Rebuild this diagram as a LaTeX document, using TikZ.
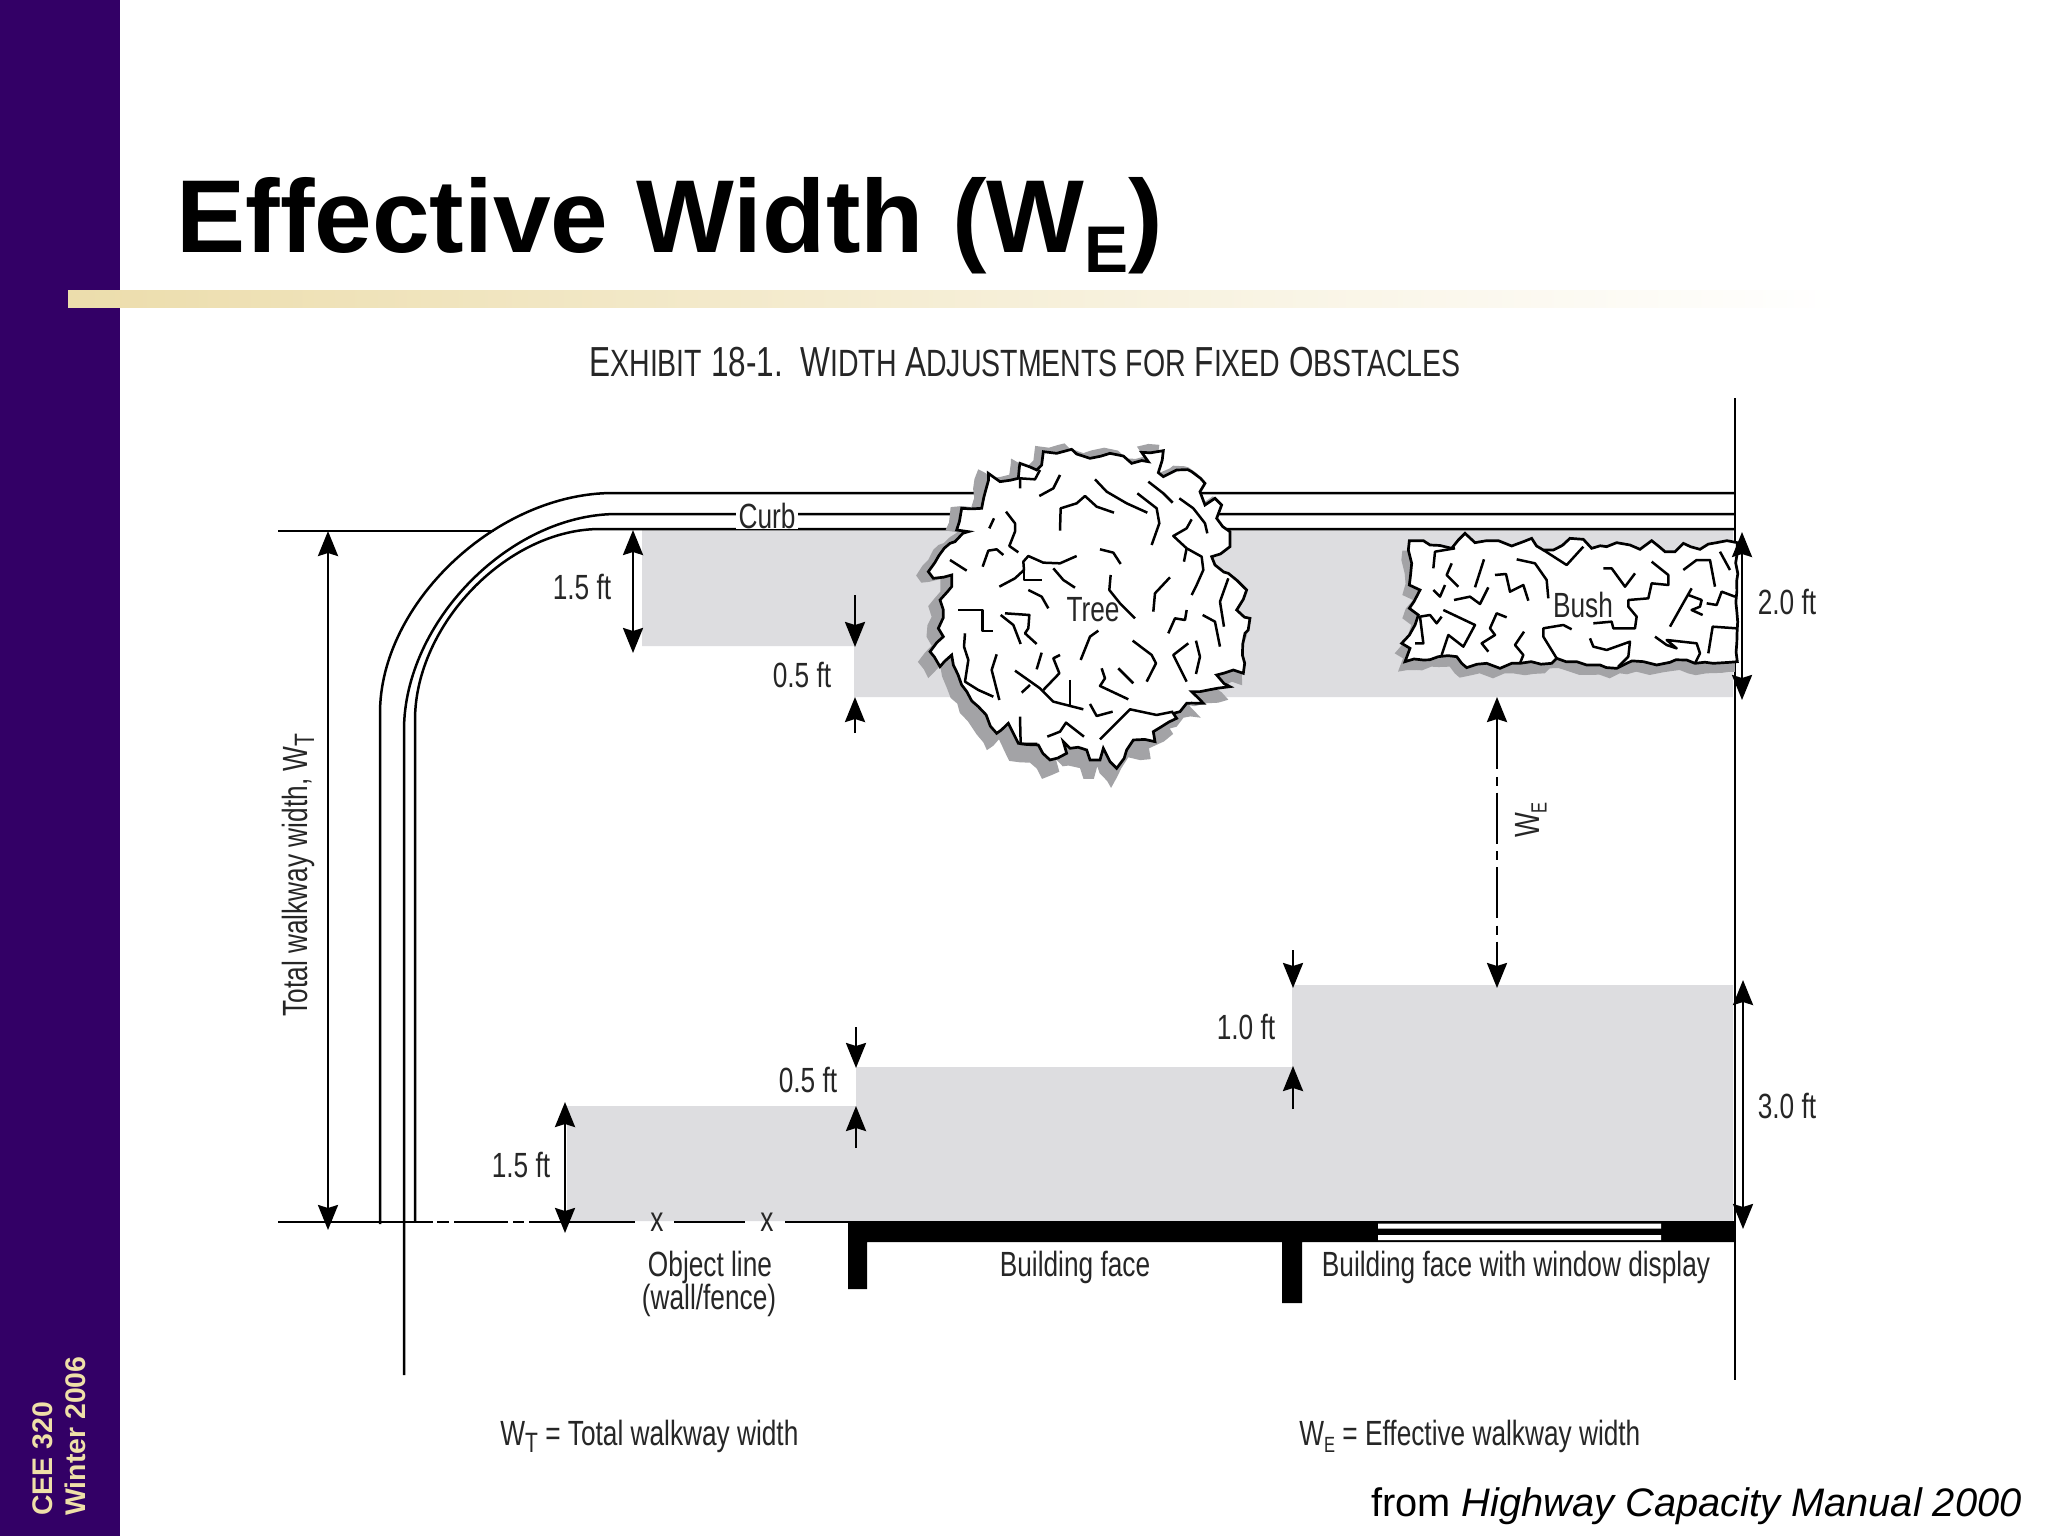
\documentclass[tikz,border=0pt]{standalone}
\usepackage{fontspec}
\usetikzlibrary{arrows.meta,decorations.pathmorphing}
\setmainfont{Liberation Sans}
\newfontfamily\cond[FakeStretch=0.75]{Liberation Sans}
\newfontfamily\condh[FakeStretch=0.75]{Liberation Sans}
\definecolor{barpurple}{HTML}{330066}
\definecolor{goldbar}{HTML}{ECDDAC}
\definecolor{sidegold}{HTML}{EFE0A8}
\definecolor{walkgrey}{HTML}{DDDDE0}
\definecolor{shadowgrey}{HTML}{A3A3A6}
\definecolor{figtext}{HTML}{262626}
\tikzset{
  lab/.style={font=\cond\fontsize{17.5}{19}\selectfont,text=figtext,inner sep=0pt},
  fig/.style={line width=1.25pt,black},
  dimtip/.tip={Stealth[length=12.5pt,width=10pt,inset=1.5pt]},
  dim/.style={line width=1.3pt,black,-dimtip},
  dimboth/.style={line width=1.3pt,black,dimtip-dimtip},
  squig/.style={line width=1.25pt,black,line join=round},
  jag/.style={decorate,decoration={random steps,segment length=5pt,amplitude=1pt}},
  outline/.style={line width=1.35pt,black,fill=white,line join=miter,jag},
}
\newcommand{\treeoutline}{(430,95)--(470,100)--(515,88)--(530,102)--(570,115)--(630,100)--(670,108)--(695,130)--(745,125)--(725,97)--(790,92)--(775,158)--(790,170)--(830,150)--(875,155)--(915,190)--(900,215)--(915,255)--(945,235)--(965,255)--(950,295)--(990,335)--(990,380)--(935,410)--(945,435)--(985,460)--(1040,510)--(1010,570)--(1050,595)--(1035,640)--(1030,760)--(1000,750)--(950,765)--(990,800)--(925,810)--(875,815)--(910,850)--(860,850)--(840,875)--(820,880)--(830,895)--(760,935)--(765,965)--(700,960)--(680,990)--(650,1045)--(610,985)--(600,1020)--(570,1020)--(560,990)--(510,985)--(490,965)--(500,1000)--(450,1020)--(415,975)--(355,970)--(335,930)--(325,910)--(290,940)--(235,860)--(185,795)--(160,735)--(155,705)--(120,740)--(90,695)--(130,650)--(115,625)--(130,570)--(120,540)--(155,500)--(155,465)--(100,475)--(85,455)--(150,370)--(165,365)--(205,335)--(170,330)--(185,265)--(245,265)--(265,160)--(300,185)--(355,175)--(360,130)--(410,150)--(425,135)--cycle}
\newcommand{\bushoutline}{(88,122)--(130,122)--(150,135)--(215,145)--(235,120)--(255,100)--(285,128)--(320,122)--(355,122)--(395,138)--(430,125)--(455,115)--(490,150)--(520,150)--(570,115)--(610,118)--(635,145)--(680,140)--(710,128)--(750,135)--(780,148)--(815,122)--(855,155)--(885,155)--(910,130)--(960,148)--(1010,128)--(1072,128)--(1072,485)--(1000,490)--(945,490)--(920,480)--(870,487)--(830,495)--(790,485)--(740,490)--(710,505)--(660,495)--(620,495)--(590,485)--(530,475)--(515,490)--(420,490)--(395,490)--(360,505)--(320,490)--(260,503)--(245,490)--(230,470)--(175,470)--(130,480)--(75,485)--(90,445)--(65,430)--(105,375)--(115,345)--(88,325)--(120,270)--(88,255)--(95,190)--(85,150)--cycle}
\begin{document}
\begin{tikzpicture}[x=0.5pt,y=-0.5pt]
\pgfmathsetseed{7}
\useasboundingbox (0,0) rectangle (2048,1536);
\fill[white] (0,0) rectangle (2048,1536);
% slide frame
\fill[barpurple] (0,0) rectangle (120,1536);
\shade[left color=goldbar,right color=white] (68,290) rectangle (1840,307);
\node[anchor=base west,inner sep=0pt,font=\bfseries\fontsize{51.8}{56}\selectfont] (title) at (176,252) {Effective Width (W\raisebox{-0.2em}{\fontsize{33}{36}\selectfont E})};
\node[anchor=base west,rotate=90,inner sep=0pt,text=sidegold,font=\bfseries\fontsize{14.2}{16}\selectfont] (course) at (52,1516) {CEE 320};
\node[anchor=base west,rotate=90,inner sep=0pt,text=sidegold,font=\bfseries\fontsize{14.2}{16}\selectfont] (term) at (85,1516) {Winter 2006};
\node[anchor=east,inner sep=0pt,font=\fontsize{19.9}{24}\selectfont] (source) at (2022,1506) {from \textit{Highway Capacity Manual 2000}};
% exhibit heading
\newcommand{\sm}[1]{{\fontsize{19}{21}\selectfont #1}}
\node[inner sep=0pt,text=figtext,font=\condh\fontsize{21}{24}\selectfont] (exhibit) at (1025,362) {E\sm{XHIBIT} 18-1.\ \ W\sm{IDTH} A\sm{DJUSTMENTS FOR} F\sm{IXED} O\sm{BSTACLES}};
% walkway grey
\fill[walkgrey] (642,529) -- (642,646) -- (854,646) -- (854,697) -- (1733,697) -- (1733,529) -- cycle;
\fill[walkgrey] (567,1221) -- (567,1106) -- (856,1106) -- (856,1067) -- (1292,1067) -- (1292,985) -- (1733,985) -- (1733,1221) -- cycle;
% curb
\draw[fig] (278,531) -- (494,531);
\draw[fig] (380,1224) -- (380,713) .. controls (380,603) and (497,493) .. (613,493) -- (1735,493);
\draw[fig] (404,1375) -- (404,730) .. controls (404,622) and (510,514) .. (617,514) -- (1735,514);
\draw[fig] (415,1222) -- (415,720) .. controls (415,625) and (507,529) .. (600,529) -- (1735,529);
\draw[fig] (1735,398) -- (1735,1380);
% object line
\draw[fig] (278,1222) -- (375,1222);
\draw[fig] (375,1222) -- (433,1222) (437,1222) -- (449,1222) (454,1222) -- (508,1222) (513,1222) -- (524,1222) (529,1222) -- (635,1222) (674,1222) -- (745,1222) (785,1222) -- (848,1222);
\node[lab] (xa) at (657,1222) {x};
\node[lab] (xb) at (767,1222) {x};
% building
\fill[black] (848,1289) -- (848,1221) -- (1735,1221) -- (1735,1242) -- (1302,1242) -- (1302,1303) -- (1282,1303) -- (1282,1242) -- (867,1242) -- (867,1289) -- cycle;
\fill[white] (1378,1223.5) rectangle (1661,1228.5) (1378,1235) rectangle (1661,1240);
% bush
\fill[shadowgrey] (1700,660) rectangle (1735,672);
\begin{scope}[shift={(1373,510)},scale=0.3333]
\fill[shadowgrey,jag] \bushoutline;
\end{scope}
\begin{scope}[shift={(1380,500)},scale=0.3333]
\draw[outline] \bushoutline;
\foreach \p in {
 {(160,205)--(165,155)--(225,145)},{(215,190)--(200,225)--(235,260)},{(312,178)--(285,262)},
 {(345,225)--(378,222)--(390,275)--(430,255)--(445,302)},{(410,178)--(465,190)--(500,240)--(505,295)},
 {(222,300)--(270,290)--(300,312)--(325,262)},{(160,270)--(180,290)--(195,255)},
 {(190,330)--(285,375)--(250,440)--(205,405)--(185,465)},{(185,350)--(170,370)--(150,345)--(120,350)--(130,430)--(105,430)},
 {(380,352)--(350,340)--(330,385)--(345,405)--(305,430)--(325,455)},{(432,395)--(405,435)--(430,465)--(420,490)},
 {(490,150)--(560,195)--(610,140)},{(670,205)--(695,205)--(735,260)--(765,220)},
 {(815,185)--(865,225)--(865,255)--(815,250)--(805,295)--(745,300)--(745,320)--(770,350)--(765,385)--(700,385)--(695,365)--(640,370)},
 {(575,388)--(550,375)--(490,385)--(490,410)--(530,475)},{(630,415)--(640,440)--(680,450)--(750,425)--(745,470)--(715,500)},
 {(825,410)--(860,435)--(890,445)--(860,420)--(950,430)--(960,460)--(945,490)},{(910,210)--(950,180)--(990,180)--(1005,260)},
 {(1020,155)--(1050,210)},{(935,265)--(915,300)--(870,380)},{(925,285)--(965,300)--(960,320)--(935,330)--(968,345)},
 {(980,310)--(1010,315)--(1025,275)--(1065,290)},{(985,460)--(998,380)--(1070,385)}}
 {\draw[squig] \p;}
\end{scope}
% tree
\begin{scope}[shift={(886.8,411.7)},xscale=0.345,yscale=0.36]
\fill[shadowgrey,jag] \treeoutline;
\end{scope}
\begin{scope}[shift={(900,420)},scale=0.3333]
\draw[outline] \treeoutline;
\foreach \p in {
 {(360,205)--(360,175)--(405,178)--(420,150)},{(418,228)--(460,205)--(480,165)},{(585,178)--(620,215)--(680,250)--(742,278)},
 {(480,332)--(482,265)--(530,250)--(555,228)--(590,260)--(642,278)},{(712,220)--(770,265)--(778,310)--(755,375)},
 {(745,185)--(790,220)--(818,248)},{(838,235)--(880,265)--(915,310)--(922,340)},
 {(875,298)--(860,325)--(820,348)--(860,385)--(905,410)--(910,450)--(890,495)--(875,525)},{(860,385)--(852,425)},
 {(268,325)--(282,295)},{(318,275)--(345,310)--(345,335)--(328,378)--(355,397)},{(248,440)--(265,392)--(290,388)--(310,405)},
 {(150,420)--(200,452)},{(298,500)--(345,475)--(372,450)--(370,425)--(385,408)--(430,428)--(480,430)--(530,408)},
 {(372,450)--(372,480)--(425,480)},{(460,445)--(490,480)--(525,503)},{(385,510)--(425,530)--(445,565)},
 {(600,388)--(640,398)--(662,432)},{(632,465)--(628,510)--(660,550)--(705,595)},{(810,472)--(765,520)--(760,575)},
 {(175,570)--(248,570)--(248,633)--(278,633)},{(302,585)--(340,615)--(362,672)},{(315,580)--(388,585)--(385,625)--(375,640)--(410,672)},
 {(860,570)--(855,600)--(825,595)--(805,640)},{(908,585)--(945,605)--(960,680)},{(985,475)--(960,545)--(972,620)},
 {(595,632)--(570,650)--(542,720)},{(698,662)--(755,705)--(768,730)--(740,785)},{(865,670)--(820,705)--(860,785)},
 {(888,662)--(900,710)--(888,762)},{(195,640)--(192,680)--(205,720)--(195,785)--(235,810)--(280,830)},
 {(290,703)--(275,750)--(298,840)},{(425,698)--(410,748)},{(480,705)--(460,715)--(478,760)--(430,810)},
 {(345,752)--(420,805)--(460,845)--(550,868)},{(390,795)--(365,818)},{(510,780)--(510,860)},
 {(605,745)--(615,775)--(600,798)--(685,838)},{(655,745)--(700,790)},{(570,852)--(590,888)--(638,875)},
 {(820,875)--(770,885)--(690,868)--(600,958)},{(442,950)--(480,935)--(498,908)--(552,950)},{(360,890)--(362,972)--(412,972)}}
 {\draw[squig] \p;}
\end{scope}
% dimensions
\coordinate (wta) at (328,531); \coordinate (wtb) at (328,1230);
\draw[dimboth] (wta) -- (wtb);
\coordinate (tla) at (633,530); \coordinate (tlb) at (633,653);
\draw[dimboth] (tla) -- (tlb);
\coordinate (tsa) at (855,595); \coordinate (tsb) at (855,647);
\draw[dim] (tsa) -- (tsb);
\coordinate (tsc) at (855,733); \coordinate (tsd) at (855,697);
\draw[dim] (tsc) -- (tsd);
\coordinate (bra) at (1742,532); \coordinate (brb) at (1742,700);
\draw[dimboth] (bra) -- (brb);
\coordinate (wea) at (1497,697); \coordinate (web) at (1497,988);
\draw[dimboth,dash pattern=on 25.5pt off 3.8pt on 4.4pt off 3.5pt] (wea) -- (web);
\coordinate (ofa) at (1293,950); \coordinate (ofb) at (1293,988);
\draw[dim] (ofa) -- (ofb);
\coordinate (ofc) at (1293,1109); \coordinate (ofd) at (1293,1066);
\draw[dim] (ofc) -- (ofd);
\coordinate (lsa) at (856,1027); \coordinate (lsb) at (856,1068);
\draw[dim] (lsa) -- (lsb);
\coordinate (lsc) at (856,1148); \coordinate (lsd) at (856,1106);
\draw[dim] (lsc) -- (lsd);
\coordinate (lla) at (565,1102); \coordinate (llb) at (565,1233);
\draw[dimboth] (lla) -- (llb);
\coordinate (tfa) at (1743,980); \coordinate (tfb) at (1743,1229);
\draw[dimboth] (tfa) -- (tfb);
% labels
\node[lab,fill=white,inner xsep=1.5pt] (curb) at (767,516) {Curb};
\node[lab] (ta) at (582,587) {1.5 ft};
\node[lab] (tree) at (1093,610) {Tree};
\node[lab] (bush) at (1583,605) {Bush};
\node[lab] (tb) at (1787,602) {2.0 ft};
\node[lab] (tc) at (802,675) {0.5 ft};
\node[lab,rotate=90] (we) at (1531,820) {W\raisebox{-0.2em}{\fontsize{11}{12}\selectfont E}};
\node[lab,rotate=90] (wt) at (298,875) {Total walkway width, W\raisebox{-0.2em}{\fontsize{14}{15}\selectfont T}};
\node[lab] (td) at (1246,1027) {1.0 ft};
\node[lab] (te) at (808,1080) {0.5 ft};
\node[lab] (tf) at (521,1165) {1.5 ft};
\node[lab] (tg) at (1787,1106) {3.0 ft};
\node[lab] (obj) at (710,1267) {Object line};
\node[lab] (objb) at (709,1300) {(wall/fence)};
\node[lab] (bf) at (1075,1267) {Building face};
\node[lab] (bfw) at (1516,1267) {Building face with window display};
\node[lab,anchor=west] (ltot) at (500,1436) {W\raisebox{-0.2em}{\fontsize{14}{15}\selectfont T} = Total walkway width};
\node[lab,anchor=west] (leff) at (1299,1436) {W\raisebox{-0.2em}{\fontsize{11}{12}\selectfont E} = Effective walkway width};
\end{tikzpicture}
\end{document}
